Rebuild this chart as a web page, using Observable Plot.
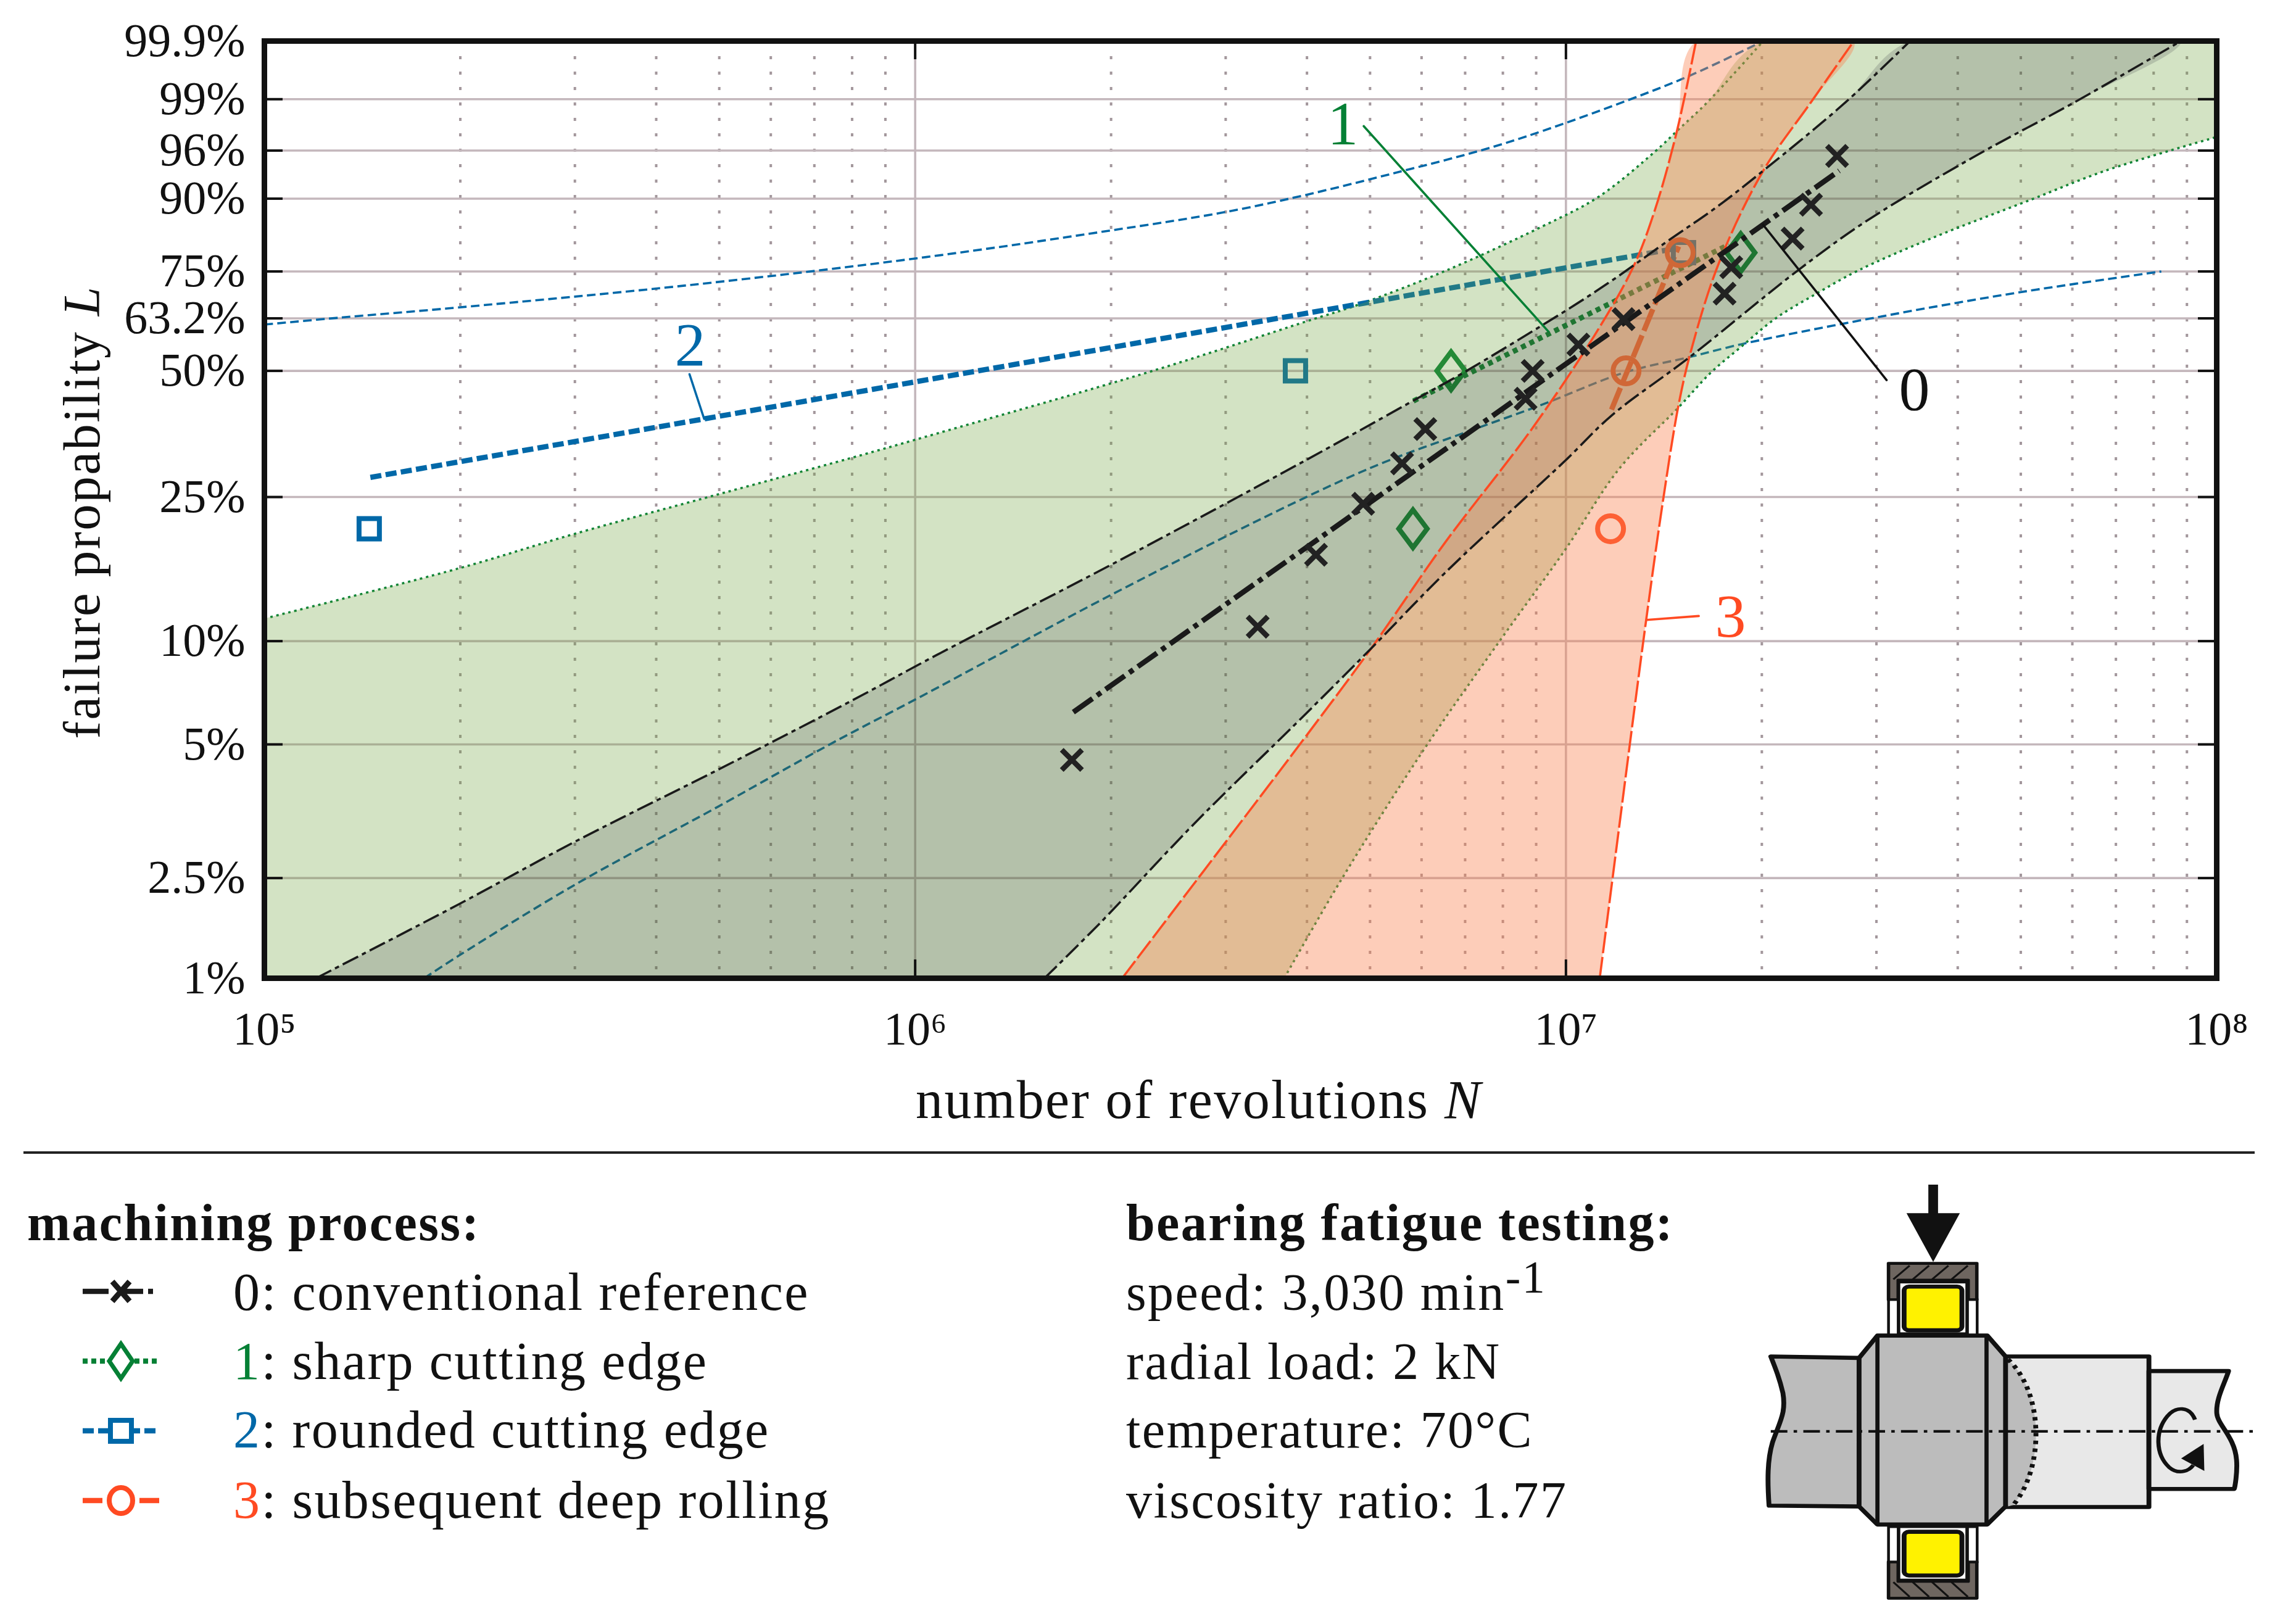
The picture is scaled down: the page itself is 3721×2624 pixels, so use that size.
<!DOCTYPE html>
<html><head><meta charset="utf-8">
<script src="https://cdn.jsdelivr.net/npm/d3@7"></script>
<script src="https://cdn.jsdelivr.net/npm/@observablehq/plot@0.6"></script>
<style>
html,body{margin:0;padding:0;background:#fff}
#page{position:relative;width:3721px;height:2624px;overflow:hidden;font-family:"Liberation Serif",serif;color:#111}
#overlay{position:absolute;left:0;top:0;pointer-events:none}
</style></head><body><div id="page"></div>
<script>
// ---------- axis labels (the reference prints "2.5%" on the 2% gridline) ----------
const yTickPercents = [1, 2, 5, 10, 25, 50, 63.2, 75, 90, 96, 99, 99.9];
const yTickLabels = ["1%","2.5%","5%","10%","25%","50%","63.2%","75%","90%","96%","99%","99.9%"];
const yGridPercents = [2, 5, 10, 25, 50, 63.2, 75, 90, 96, 99];
const xDecades = [1e5, 1e6, 1e7, 1e8];
const xDecadeLabels = ["10⁵", "10⁶", "10⁷", "10⁸"];
const xMajorGrid = [1e6, 1e7];
const xMinorGrid = [2e5,3e5,4e5,5e5,6e5,7e5,8e5,9e5,2e6,3e6,4e6,5e6,6e6,7e6,8e6,9e6,2e7,3e7,4e7,5e7,6e7,7e7,8e7,9e7];

// ---------- measured samples [N, L%] ----------
const samples0 = [[1.741e6,4.5],[3.36e6,11],[4.13e6,17.5],[4.88e6,24],[5.60e6,30.5],[6.08e6,37],[8.67e6,43.5],[8.89e6,50],[1.045e7,56.5],[1.226e7,63],[1.753e7,69.5],[1.795e7,76],[2.23e7,82.5],[2.38e7,89],[2.61e7,95.5]];
const samples1 = [[5.82e6,20.6],[6.66e6,50],[1.856e7,79.4]];
const samples2 = [[1.449e5,20.6],[3.84e6,50],[1.516e7,79.4]];
const samples3 = [[1.171e7,20.6],[1.237e7,50],[1.498e7,79.4]];

// ---------- Weibull fit lines ----------
const fit0 = [[1.75e6,6.22],[2.63e7,93.9]];
const fit1 = [[5.83e6,43],[1.78e7,81.2]];
const fit2 = [[1.455e5,28.1],[1.47e7,80.3]];
const fit3 = [[1.175e7,41.1],[1.49e7,80.8]];

// ---------- confidence bounds ----------
const upper0 = [[1.2e5,1],[1.99e5,1.67],[3e5,2.57],[4.98e5,4.21],[8e5,6.73],[1.08e6,9.13],[2.01e6,16.5],[3.99e6,31.1],[5.95e6,43.8],[6.93e6,49.4],[1e7,65.2],[1.175e7,72.7],[1.434e7,82],[1.7e7,88.5],[2.025e7,94.1],[2.69e7,98.9],[3.38e7,99.9]];
const lower0 = [[1.58e6,1],[1.92e6,1.46],[2.68e6,2.9],[3.99e6,6.17],[5.02e6,9.53],[6.52e6,15.6],[1e7,31.1],[1.175e7,39.8],[1.55e7,53.4],[2.27e7,75.2],[2.9e7,86.1],[4.26e7,95.5],[6.05e7,98.9],[8.81e7,99.9]];
const upper1 = [[1e5,11.6],[1.99e5,16.05],[3e5,19.96],[4.98e5,25.4],[8e5,31.5],[1.08e6,36.1],[2.34e6,50.2],[3.99e6,62.4],[4.8e6,66.7],[6.52e6,75.1],[9.2e6,85],[1.123e7,90.3],[1.37e7,95.9],[1.49e7,97.6],[1.65e7,98.9],[2.01e7,99.9]];
const lower1 = [[3.69e6,1],[4.51e6,1.97],[6.04e6,4.81],[7.89e6,9.95],[9.98e6,18.1],[1.21e7,29.7],[1.49e7,41.6],[1.67e7,49.6],[1.86e7,56],[2.1e7,63.2],[2.42e7,69.4],[2.81e7,75.2],[3.65e7,82.6],[5.2e7,89.9],[6.74e7,93.9],[1e8,97.1]];
const upper2 = [[1e5,61.6],[1.31e5,63.4],[1.99e5,66],[4.53e5,71.7],[1.04e6,78.4],[2e6,84.2],[2.99e6,87.7],[3.95e6,90.5],[5.44e6,93.6],[7.49e6,96.1],[9.2e6,97.5],[1.25e7,98.98],[1.55e7,99.56],[2.01e7,99.9]];
const lower2 = [[1.76e5,1],[1.99e5,1.17],[3e5,1.91],[4.98e5,3.27],[7.42e5,5.02],[1.01e6,6.84],[2.01e6,13.6],[3.99e6,25],[5.26e6,30.7],[6.93e6,36.1],[9.2e6,42.2],[1.23e7,49.6],[1.55e7,53.4],[1.86e7,56.6],[2.99e7,63.4],[4.96e7,69.8],[8.22e7,75]];
const upper3 = [[2.08e6,1],[2.77e6,2.09],[3.93e6,5.1],[5.02e6,9.53],[6.52e6,18.9],[8.85e6,36.9],[1.106e7,58.8],[1.27e7,76.2],[1.37e7,88.1],[1.48e7,97.45],[1.585e7,99.9]];
const lower3 = [[1.127e7,1],[1.27e7,6.06],[1.33e7,11.7],[1.41e7,24.5],[1.49e7,42.2],[1.56e7,55.5],[1.72e7,77.2],[2.01e7,93.9],[2.38e7,98.9],[2.77e7,99.9]];
// the green band closes beyond the frame, where it is clipped
const greenOutLeft = [[8e4,1],[8e4,10.4]], greenOutRight = [[1.2e8,98],[1.2e8,99.9]];

// ---------- curve call-outs ----------
const leader0 = [[2.01e7,85.3],[3.11e7,47.8]];
const leader1 = [[4.89e6,97.8],[9.39e6,59.9]];
const leader2 = [[4.5e5,49.2],[4.74e5,39.1]];
const leader3 = [[1.6e7,11.8],[1.33e7,11.5]];
const callouts = [
  {N:3.43e7,L:45.5,t:"0",c:"#111"},
  {N:4.54e6,L:97.9,t:"1",c:"#058035"},
  {N:4.51e5,L:56.3,t:"2",c:"#0068a8"},
  {N:1.79e7,L:11.7,t:"3",c:"#ff4a22"}
];

// ---------- legend text ----------
const legendTitle = "machining process:";
const legendRows = [
  {id:"0",text:": conventional reference",c:"#111"},
  {id:"1",text:": sharp cutting edge",c:"#058035"},
  {id:"2",text:": rounded cutting edge",c:"#0068a8"},
  {id:"3",text:": subsequent deep rolling",c:"#ff4a22"}
];
const testTitle = "bearing fatigue testing:";
const testRows = ["speed: 3,030 min","radial load: 2 kN","temperature: 70°C","viscosity ratio: 1.77"];

// ---------- colours ----------
const BLACK="#1a1a1a", GREEN="#058035", BLUE="#0068a8", RED="#ff4a22", GRID="#c4b7bc", DOT="#a3979c";

const w = L => -Math.log(1 - L/100);           // Weibull probability ordinate
const X = d => d[0], Y = d => w(d[1]);
const edge = (data,stroke,dash,sw=3.6) => Plot.line(data,{x:X,y:Y,stroke,strokeWidth:sw,strokeDasharray:dash,strokeLinecap:"butt",curve:"catmull-rom",clip:true});
const fit  = (data,stroke,dash) => Plot.line(data,{x:X,y:Y,stroke,strokeWidth:8.5,strokeDasharray:dash,strokeLinecap:"butt",clip:true});
const band = (a,b,fill,fillOpacity) => Plot.line([...a,...b.slice().reverse()],{x:X,y:Y,fill,fillOpacity,stroke:"none",curve:"catmull-rom",clip:true});

const tall = {draw(ctx,size){const r=Math.sqrt(size/Math.PI);ctx.moveTo(0,-r*1.33);ctx.lineTo(r,0);ctx.lineTo(0,r*1.33);ctx.lineTo(-r,0);ctx.closePath();}};

const FW = 3164, FH = 1519;
const chart = Plot.plot({
  width:3721, height:1860, marginLeft:428, marginRight:129, marginTop:66, marginBottom:275,
  style:{fontFamily:"'Liberation Serif',serif",fontSize:"76px",background:"transparent",color:"#111"},
  x:{type:"log",domain:[1e5,1e8],label:null},
  y:{type:"log",domain:[w(1),w(99.9)],label:null},
  marks:[
    Plot.ruleX(xMinorGrid,{stroke:DOT,strokeWidth:4,strokeDasharray:"5,20"}),
    Plot.ruleX(xMajorGrid,{stroke:GRID,strokeWidth:3.6}),
    Plot.ruleY(yGridPercents,{y:w,stroke:GRID,strokeWidth:3.6}),
    // series under the shaded bands
    edge(upper2,BLUE,"14,7"),edge(lower2,BLUE,"14,7"),
    edge(upper1,GREEN,"4,6"),edge(lower1,GREEN,"4,6"),
    fit(fit1,GREEN,"8,7"),fit(fit2,BLUE,"18,7"),fit(fit3,RED,"38,8"),
    Plot.dot(samples1,{x:X,y:Y,symbol:tall,r:23,stroke:GREEN,strokeWidth:8,fill:"none"}),
    Plot.dot(samples2,{x:X,y:Y,symbol:"square",r:18.6,stroke:BLUE,strokeWidth:8,fill:"none"}),
    Plot.dot(samples3,{x:X,y:Y,symbol:"circle",r:21,stroke:RED,strokeWidth:8,fill:"none"}),
    // shaded confidence bands
    band([...greenOutLeft,...upper1],[...lower1,...greenOutRight],"rgb(108,162,58)",0.3),
    band(upper0,lower0,"rgb(5,0,30)",0.15),
    band(upper3,lower3,"#fa8250",0.4),
    // series above the bands
    edge(upper3,RED,"35,6"),edge(lower3,RED,"35,6"),
    edge(upper0,BLACK,"28,7,7,7"),edge(lower0,BLACK,"28,7,7,7"),
    fit(fit0,BLACK,"38,9,8,9"),
    Plot.dot(samples0,{x:X,y:Y,symbol:"times",r:15,stroke:"#222",strokeWidth:8.5,strokeLinecap:"butt"}),
    // call-outs
    Plot.line(leader0,{x:X,y:Y,stroke:"#111",strokeWidth:3.6}),
    Plot.line(leader1,{x:X,y:Y,stroke:GREEN,strokeWidth:3.6}),
    Plot.line(leader2,{x:X,y:Y,stroke:BLUE,strokeWidth:3.6}),
    Plot.line(leader3,{x:X,y:Y,stroke:RED,strokeWidth:3.6}),
    Plot.text(callouts,{x:"N",y:d=>w(d.L),text:"t",fill:"c",fontSize:100}),
    // ticks and frame
    Plot.ruleY(yGridPercents,{y:w,stroke:"#111",strokeWidth:4,insetRight:FW-30}),
    Plot.ruleY(yGridPercents,{y:w,stroke:"#111",strokeWidth:4,insetLeft:FW-30}),
    Plot.ruleX(xMajorGrid,{stroke:"#111",strokeWidth:4,insetTop:FH-30}),
    Plot.ruleX(xMajorGrid,{stroke:"#111",strokeWidth:4,insetBottom:FH-30}),
    Plot.frame({stroke:"#111",strokeWidth:9}),
    Plot.axisY(yTickPercents.map(w),{anchor:"left",tickSize:0,tickPadding:31,
      tickFormat:v=>yTickLabels[yTickPercents.findIndex(p=>Math.abs(w(p)-v)<1e-9)]}),
    Plot.axisX(xDecades,{anchor:"bottom",tickSize:0,tickPadding:54,
      tickFormat:v=>xDecadeLabels[xDecades.indexOf(v)]})
  ]
});
const page = d3.select("#page");
page.node().appendChild(chart);
d3.select(chart).style("position","absolute").style("left",0).style("top",0);

// ---------- overlay: axis titles, rule, legend, test rig sketch ----------
const svg = page.append("svg").attr("id","overlay").attr("width",3721).attr("height",2624)
  .style("font-family","'Liberation Serif',serif").style("fill","#111");
const LS = "2.4px";
const label = (parent,x,y,fs,attrs={}) => {const t=parent.append("text").attr("x",x).attr("y",y).attr("font-size",fs).attr("letter-spacing",LS);
  Object.entries(attrs).forEach(([k,v])=>t.attr(k,v));return t;};

const xt = label(svg,1943,1812,88,{"text-anchor":"middle"});
xt.append("tspan").text("number of revolutions ");xt.append("tspan").attr("font-style","italic").text("N");
const yt = label(svg,0,0,85,{"text-anchor":"middle",transform:"translate(161,830) rotate(-90)"});
yt.append("tspan").text("failure propability ");yt.append("tspan").attr("font-style","italic").text("L");

svg.append("line").attr("x1",38).attr("x2",3654).attr("y1",1868).attr("y2",1868).attr("stroke","#222").attr("stroke-width",4);

const rowY=[2123,2235,2346,2460], swY=[2093,2206,2319,2432];
label(svg,44,2010,84,{"font-weight":"bold"}).text(legendTitle);
label(svg,1825,2010,84,{"font-weight":"bold"}).text(testTitle);
legendRows.forEach((r,i)=>{
  const t=label(svg,378,rowY[i],86);
  t.append("tspan").attr("fill",r.c).text(r.id);
  t.append("tspan").text(r.text);
});
testRows.forEach((s,i)=>{
  const t=label(svg,1825,rowY[i],84);
  t.append("tspan").text(s);
  if(i===0){t.append("tspan").attr("dy",-28).attr("font-size",74).text("-1");}
});
const sw=svg.append("g");
[[BLACK,"42,18,38,8,8"],[GREEN,"8,6"],[BLUE,"18,7"],[RED,"32,60,32"]].forEach(([c,d],i)=>{
  sw.append("line").attr("x1",134).attr("x2",258).attr("y1",swY[i]).attr("y2",swY[i]).attr("stroke",c).attr("stroke-width",8.5).attr("stroke-dasharray",d);
});
const m=(y)=>`translate(196,${y})`;
sw.append("path").attr("transform",m(swY[0])).attr("d","M-14,-16L14,16M14,-16L-14,16").attr("stroke",BLACK).attr("stroke-width",9).attr("fill","none");
sw.append("path").attr("transform",m(swY[1])).attr("d","M0,-28L19,0L0,28L-19,0Z").attr("stroke",GREEN).attr("stroke-width",7).attr("fill","#fff");
sw.append("rect").attr("transform",m(swY[2])).attr("x",-17).attr("y",-17).attr("width",34).attr("height",34).attr("stroke",BLUE).attr("stroke-width",8).attr("fill","#fff");
sw.append("ellipse").attr("transform",m(swY[3])).attr("rx",19).attr("ry",21).attr("stroke",RED).attr("stroke-width",8).attr("fill","#fff");

// test rig (illustration, not data)
const rig=svg.append("g").attr("transform",`translate(2780,1880) scale(${880/1568},${740/1568})`);
const K="#111", P=(d,fill,sw=14)=>rig.append("path").attr("d",d).attr("fill",fill).attr("stroke",K).attr("stroke-width",sw).attr("stroke-linejoin","round");
P("M160,675L415,680L415,1190L155,1187C150,1100 150,1030 165,970C185,900 205,870 195,800C185,750 175,720 160,675Z","#bcbcbc");
P("M838,675L1252,675L1252,1192L838,1192Z","#e8e8e8");
P("M1252,725L1482,725C1470,770 1445,820 1448,870C1450,910 1500,950 1505,1030C1508,1070 1500,1130 1498,1130L1252,1130Z","#e8e8e8");
rig.append("path").attr("d","M845,685C950,800 950,1060 860,1185L845,1190Z").attr("fill","#bcbcbc");
rig.append("path").attr("d","M845,685C950,800 950,1060 860,1185").attr("fill","none").attr("stroke",K).attr("stroke-width",14).attr("stroke-dasharray","12,15");
P("M415,680L468,603L785,603L838,675L838,1190L785,1252L468,1252L415,1190Z","#bcbcbc");
P("M468,603L468,1252","none",12);P("M783,603L783,1252","none",12);
[[500,355,1],[500,1380,-1]].forEach(([x,y,s])=>{
  P(`M${x},${y}h255v125h-255Z`,"#6e6660",10);
  const iy = s>0?y+58:y;
  P(`M${x+28},${iy}h202v67h-202Z`,"#fff",10);
  for(let k=0;k<4;k++){const x0=x+14+k*56;
    if(s>0) rig.append("line").attr("x1",x0).attr("y1",y+55).attr("x2",x0+47).attr("y2",y+8).attr("stroke",K).attr("stroke-width",6);
    else rig.append("line").attr("x1",x0).attr("y1",y+70).attr("x2",x0+47).attr("y2",y+120).attr("stroke",K).attr("stroke-width",6);}
});
[[500,480],[728,480],[500,1260],[728,1260]].forEach(([x,y])=>{rig.append("rect").attr("x",x).attr("y",y).attr("width",28).attr("height",120).attr("fill","#fff").attr("stroke",K).attr("stroke-width",8);});
rig.append("rect").attr("x",530).attr("y",420).attr("width",196).attr("height",176).attr("fill","#fff").attr("stroke",K).attr("stroke-width",8);
rig.append("rect").attr("x",530).attr("y",1260).attr("width",196).attr("height",182).attr("fill","#fff").attr("stroke",K).attr("stroke-width",8);
[[545,435],[545,1277]].forEach(([x,y])=>{rig.append("rect").attr("x",x).attr("y",y).attr("width",167).attr("height",150).attr("rx",14).attr("fill","#fff200").attr("stroke",K).attr("stroke-width",14);});
rig.append("path").attr("d","M615,85H643V183H706L629,350L552,183H615Z").attr("fill",K);
rig.append("line").attr("x1",160).attr("x2",1557).attr("y1",932).attr("y2",932).attr("stroke",K).attr("stroke-width",9).attr("stroke-dasharray","48,18,10,18");
rig.append("path").attr("d","M1385,892C1370,845 1330,845 1305,880C1270,930 1270,1010 1310,1055C1340,1085 1370,1065 1380,1048").attr("fill","none").attr("stroke",K).attr("stroke-width",12);
rig.append("path").attr("d","M1410,975L1345,1025L1412,1068Z").attr("fill",K);
</script></body></html>
